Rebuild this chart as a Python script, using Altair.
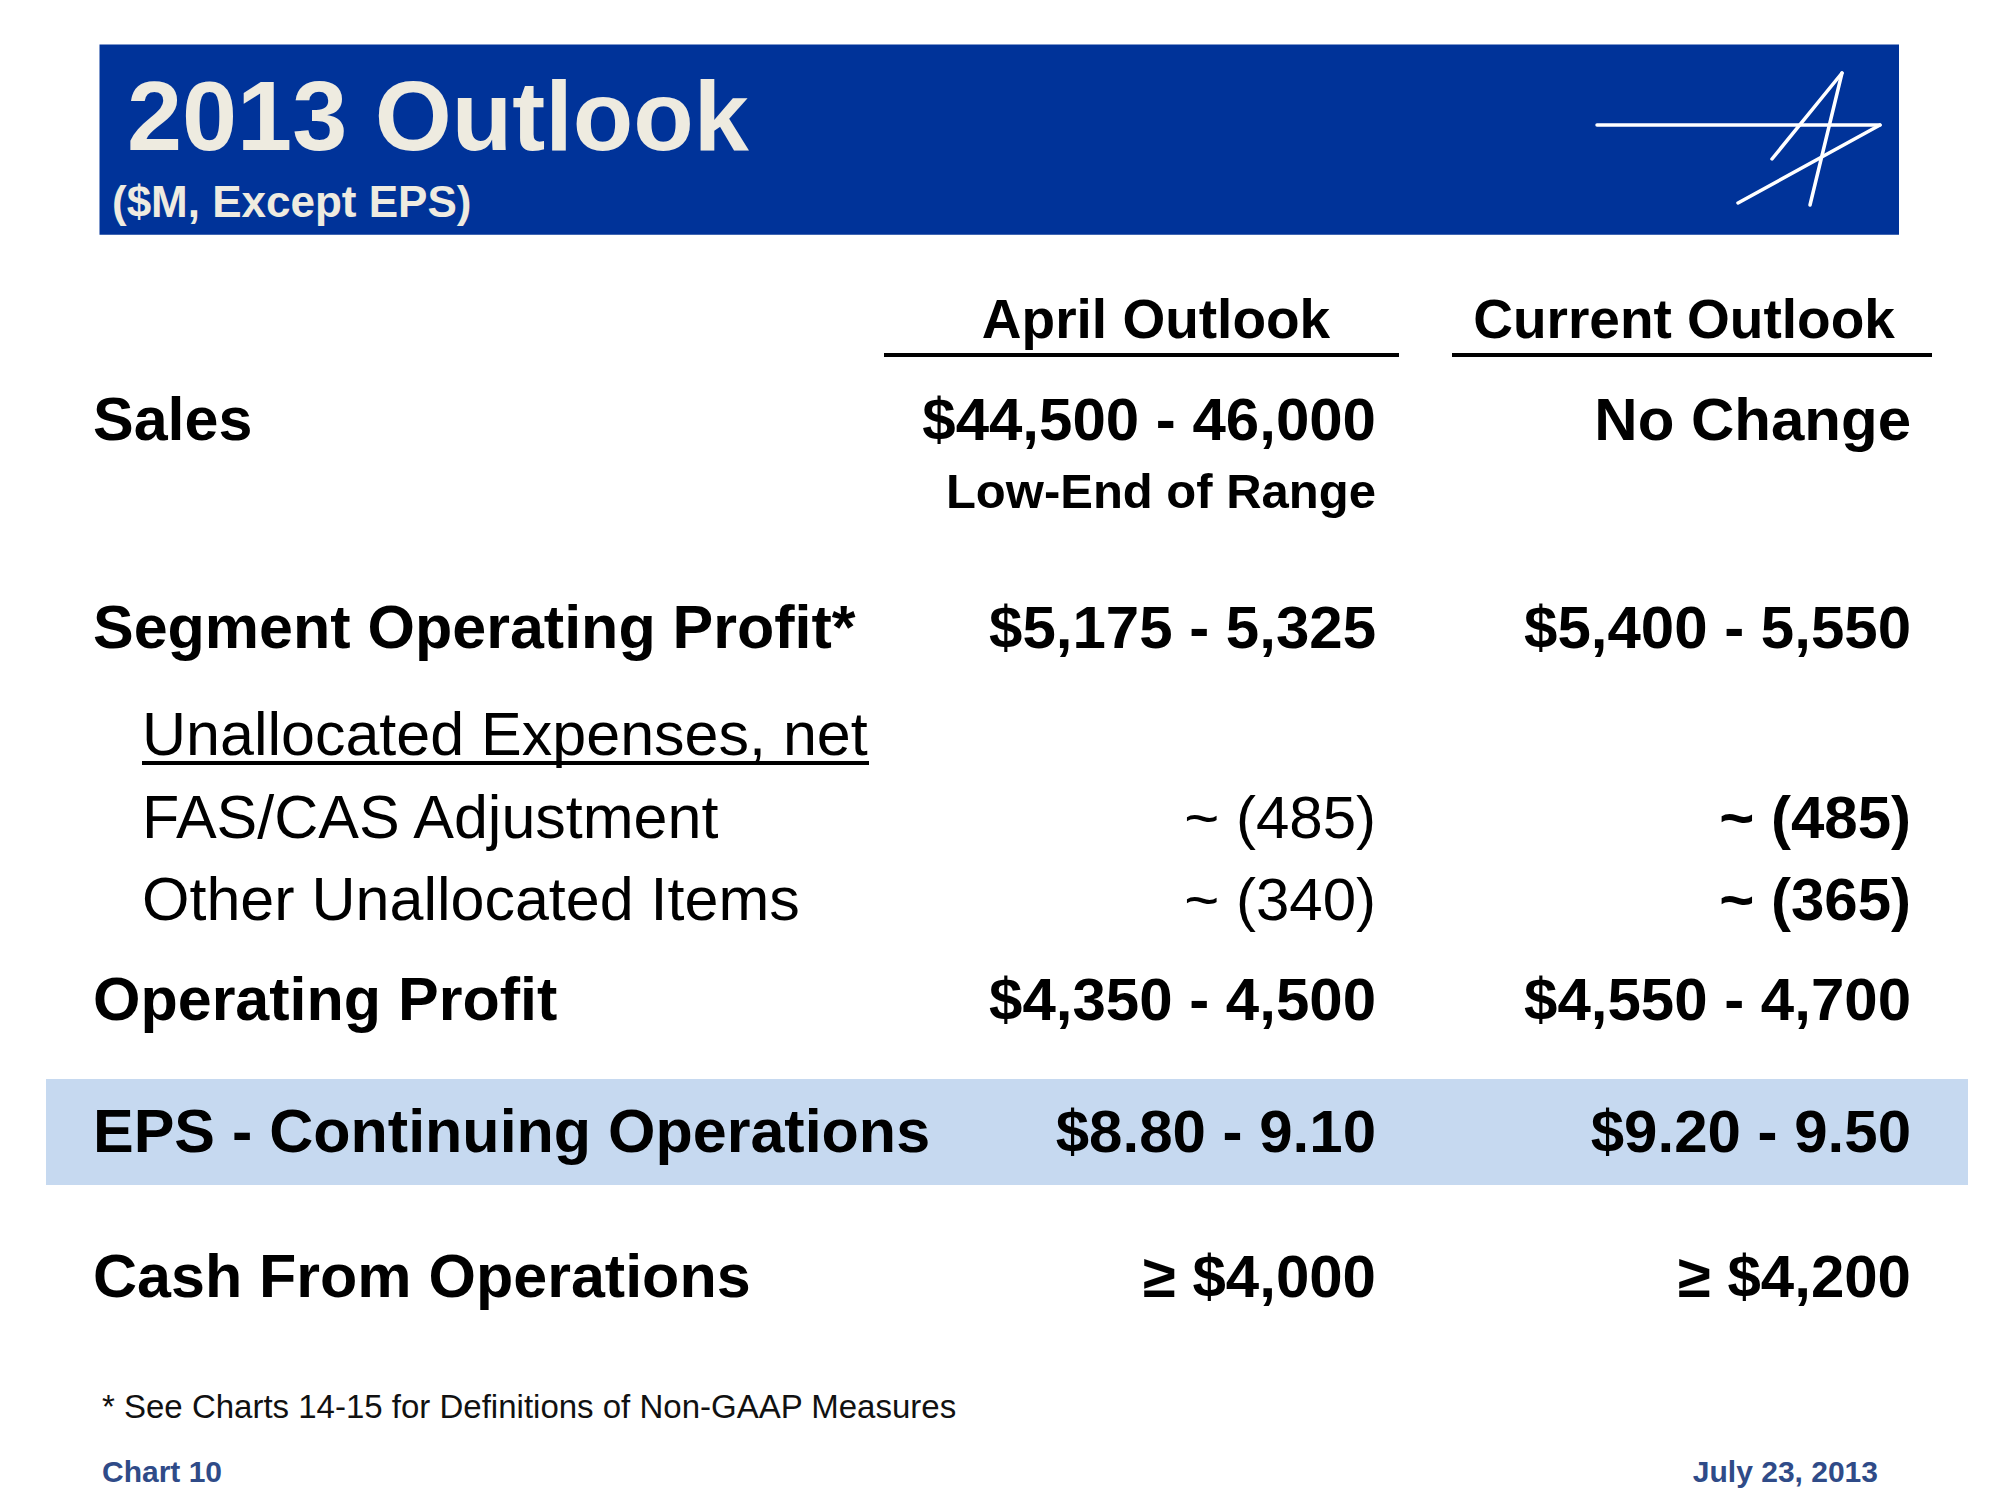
import altair as alt
import pandas as pd

# ---------------- data (text content of the slide) ----------------
title = "2013 Outlook"
subtitle = "($M, Except EPS)"
col_headers = ["April Outlook", "Current Outlook"]
main_labels = ["Sales", "Segment Operating Profit*", "Operating Profit",
               "EPS - Continuing Operations", "Cash From Operations"]
april_main = ["$44,500 - 46,000", "$5,175 - 5,325", "$4,350 - 4,500",
              "$8.80 - 9.10", "≥ $4,000"]
current_main = ["No Change", "$5,400 - 5,550", "$4,550 - 4,700",
                "$9.20 - 9.50", "≥ $4,200"]
sales_note = "Low-End of Range"
sub_header = "Unallocated Expenses, net"
sub_labels = ["FAS/CAS Adjustment", "Other Unallocated Items"]
april_sub = ["~ (485)", "~ (340)"]
current_sub = ["~ (485)", "~ (365)"]
footnote = "* See Charts 14-15 for Definitions of Non-GAAP Measures"
footer_left = "Chart 10"
footer_right = "July 23, 2013"

# ---------------- layout (page coordinates, px) ----------------
main_base = [440, 648, 1020, 1152, 1297]
sub_base = [838, 920]
LABEL_X, SUB_X = 93, 142
APRIL_R, CURRENT_R = 1376, 1911
HEAD_C = [1156, 1684]
HEAD_BASE = 338

FONT = "Liberation Sans"
BLUE = "#003399"
CREAM = "#EEEBE0"
BAND = "#C6D9F0"
FOOT_BLUE = "#2F4B88"

X = alt.X("x:Q", scale=alt.Scale(domain=[8, 1992], nice=False, zero=False), axis=None)
Y = alt.Y("y:Q", scale=alt.Scale(domain=[8, 1492], nice=False, zero=False, reverse=True), axis=None)
X2 = alt.X2("x2:Q")
Y2 = alt.Y2("y2:Q")


def txt(texts, xs, ys, size, weight="bold", color="#000000", align="left"):
    df = pd.DataFrame({"t": texts, "x": xs, "y": ys})
    return alt.Chart(df).mark_text(
        align=align, baseline="alphabetic", fontSize=size, fontWeight=weight,
        color=color, font=FONT
    ).encode(x=X, y=Y, text="t:N")


# background boxes
boxes = pd.DataFrame({
    "x": [99.5, 46], "x2": [1899, 1968],
    "y": [44.6, 1079], "y2": [234.7, 1185],
    "c": [BLUE, BAND],
})
box_layer = alt.Chart(boxes).mark_rect().encode(
    x=X, x2=X2, y=Y, y2=Y2, color=alt.Color("c:N", scale=None)
)

# logo strokes
logo = pd.DataFrame({
    "x": [1597, 1880, 1842, 1842],
    "y": [125, 125, 73, 73],
    "x2": [1880, 1738, 1810, 1772],
    "y2": [125, 203, 205, 159],
})
logo_layer = alt.Chart(logo).mark_rule(color="white", strokeWidth=3.5, strokeCap="round").encode(
    x=X, y=Y, x2=X2, y2=Y2
)

# underlines
ul = pd.DataFrame({
    "x": [884, 1452, 142],
    "x2": [1399, 1932, 869],
    "y": [355, 355, 763],
    "y2": [355, 355, 763],
})
ul_layer = alt.Chart(ul).mark_rule(color="#000000", strokeWidth=4).encode(
    x=X, y=Y, x2=X2, y2=Y2
)

layers = [
    box_layer, logo_layer, ul_layer,
    txt([title], [127], [150], 99, color=CREAM),
    txt([subtitle], [112], [217], 44, color=CREAM),
    txt(col_headers, HEAD_C, [HEAD_BASE] * 2, 55, align="center"),
    txt(main_labels, [LABEL_X] * 5, main_base, 61),
    txt(april_main, [APRIL_R] * 5, main_base, 60, align="right"),
    txt(current_main, [CURRENT_R] * 5, main_base, 60, align="right"),
    txt([sales_note], [APRIL_R], [508], 49, align="right"),
    txt([sub_header], [SUB_X], [755], 61, weight="normal"),
    txt(sub_labels, [SUB_X] * 2, sub_base, 61, weight="normal"),
    txt(april_sub, [APRIL_R] * 2, sub_base, 60, weight="normal", align="right"),
    txt(current_sub, [CURRENT_R] * 2, sub_base, 60, align="right"),
    txt([footnote], [102], [1418], 33, weight="normal", color="#111111"),
    txt([footer_left], [102], [1482], 30, color=FOOT_BLUE),
    txt([footer_right], [1878], [1482], 30, color=FOOT_BLUE, align="right"),
]

chart = alt.layer(*layers).properties(
    width=1984, height=1484, padding=0,
    autosize=alt.AutoSizeParams(type="none"),
    background="white",
).configure_view(stroke=None)

chart.save("out.html", embed_options={"renderer": "svg", "actions": False})
